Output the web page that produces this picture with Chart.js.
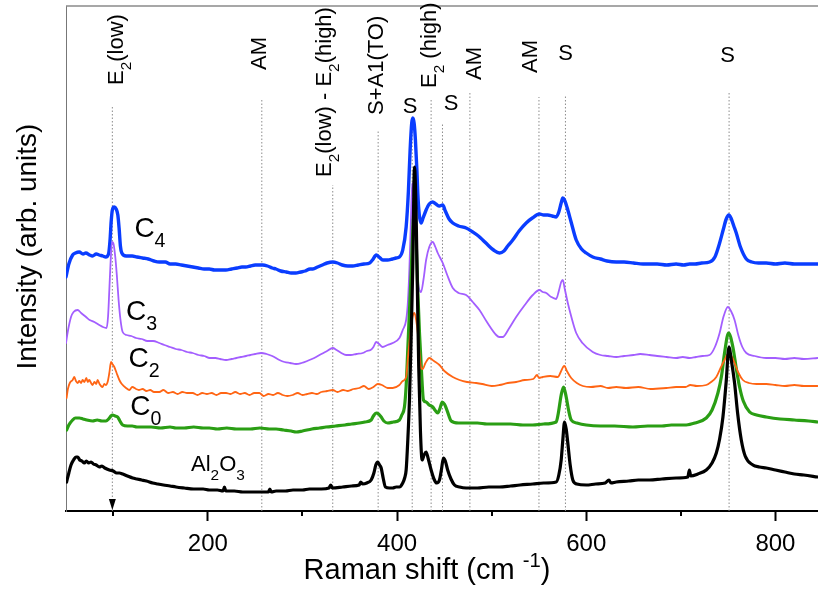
<!DOCTYPE html>
<html>
<head>
<meta charset="utf-8">
<script src="https://cdn.jsdelivr.net/npm/chart.js@4.4.1/dist/chart.umd.min.js"></script>
<style>
  html, body { margin: 0; padding: 0; background: #fff; }
  canvas { display: block; }
</style>
</head>
<body>
<canvas id="raman" width="818" height="592"></canvas>
<script>
// Raman spectra: [Raman shift (cm-1), intensity (arb. units)]
const c4Spectrum = [[50,234],[53,247],[57,256],[60,258],[64,259],[68,257],[71,258],[75,256],[78,255],[82,257],[85,256],[89,255],[92,254],[95,257],[96.5,270],[97.8,290],[99,301],[101,304],[103,302],[104.8,296],[106.2,282],[107.5,265],[109,258],[113.5,255],[120,255],[125,254],[131,253],[137,252],[143,250],[148.7,249],[155,249],[160,247],[166,247],[172,246],[178,245],[184,244],[190,243],[196,242],[201.5,242],[207,241],[213,241],[219,241],[225,242],[231,243],[236,244],[240,244],[245,245],[250,246],[254,246],[258,246],[263,245],[268,243],[272,242],[277,240],[283,239],[288,238],[293,238],[298,239],[303,240],[308,242],[311,242],[316,244],[321,246],[326,248],[332,249],[337,248],[342,246],[348,245],[353,245],[359,246],[365,247],[371,248],[374,251],[378,256],[381,254],[385,251],[390,251],[395,252],[399,253],[402.5,254],[406,261],[409.6,284],[412,320],[413.8,361],[415.5,388],[416.6,393],[418,388],[419.4,371],[421,340],[421.9,318],[423.5,296],[425.4,288],[427.5,293],[430.7,301],[434,307],[437.7,309],[441,307],[444.8,305],[448.3,306],[451,300],[455,292],[458.9,288],[465,285],[473,283],[480,279],[486,275],[490.6,271],[496,266],[502,261],[508.3,258],[513,260],[517,265],[522.3,271],[529,280],[536.5,288],[543,293],[550.6,297],[555,296],[559.3,296],[564,295],[568.2,294],[571,299],[573.5,308],[575.2,313],[577,311],[580.5,301],[584,289],[589.4,271],[595,262],[600,258],[606.9,254],[615,252],[622,250],[631.7,249],[640,249],[650,248],[660,247],[666.9,247],[675,247],[685,246],[695,247],[703,246],[709.2,247],[715,247],[722,248],[730.4,249],[736,254],[741,268],[745,282],[748,292],[750.8,296],[753,293],[756,285],[758.6,278],[763,264],[769.2,252],[775,249],[782,248],[790.3,248],[800,247],[810,248],[820,247],[830,247],[844.6,247]];

const c3Spectrum = [[50,168],[52,180],[55.3,194],[58,199],[62.3,201],[66,198],[71.2,194],[75,191],[80,189],[85.2,186],[89,184],[92.9,183],[94.5,195],[95.8,221],[97.2,250],[98.6,269],[100,268],[102.1,254],[103.8,235],[105.6,211],[107.5,192],[109.9,179],[114,176],[119,175],[124,173],[130,172],[136,170],[142,170],[148.7,168],[154,166],[160,164],[166,162],[172,161],[178,159],[183.9,158],[190,156],[196,155],[202,153],[208,153],[213,152],[219.2,151],[225,152],[230,153],[235,154],[240.4,155],[245,156],[250,157],[256.2,158],[262,157],[268,155],[275.6,151],[281,149],[287,148],[293.2,147],[299,148],[305,150],[310,152],[314.4,154],[320,157],[326,160],[332,163],[336,161],[341,158],[346.1,156],[351,156],[357,157],[363.7,158],[368,160],[372,161],[375,164],[377.9,169],[381,167],[384.8,164],[390,166],[395.4,168],[402.5,173],[406,181],[409.6,191],[411.5,210],[413.1,244],[414.6,290],[416,328],[417.6,315],[419.4,278],[421,245],[422.9,224],[425.4,219],[428,232],[430.7,251],[434,264],[437.7,269],[440.5,264],[443,258],[448.3,248],[453,236],[458.9,223],[465,218],[473,216],[480,209],[487.1,201],[495,189],[504.8,176],[508,174],[511.7,174],[518,182],[525.9,194],[535,206],[543.5,216],[550.6,221],[554,219],[557.7,218],[563,214],[568.2,212],[571,220],[573.5,229],[575.2,231],[577.3,222],[580.5,208],[584,195],[589.4,178],[596,168],[606.9,159],[615,156],[623,155],[631.7,154],[640,155],[650,156],[657,157],[666.9,156],[675,155],[685,154],[695,153],[702,154],[709.2,153],[716,154],[723,155],[730.4,156],[736,164],[741,178],[745,194],[749.7,204],[753,200],[756.8,191],[761,175],[765,164],[769.2,158],[778,155],[790.3,153],[800,153],[810,152],[820,153],[830,152],[844.6,153]];

const c2Spectrum = [[50.6,113],[52,122],[54,128],[57,131],[58.8,134],[60.5,130],[62.3,128],[64,130],[66,128],[67.5,131],[69.4,129],[71.5,133],[73,129],[74.6,131],[76.5,128],[78.1,126],[80,129],[82,127],[83.4,131],[85.5,127],[87,125],[88.7,124],[90.5,127],[92,126],[94,129],[95.8,138],[97.6,149],[99,147],[101.1,144],[103.5,138],[106.4,131],[109,127],[113.5,123],[117,121],[120,124],[124,122],[127,121],[131,122],[135,120],[139,121],[143,119],[148.7,119],[153,121],[158,118],[163,119],[168,117],[173,119],[178,118],[183.9,118],[189,116],[194,118],[199,117],[204,118],[209,116],[214,118],[219.2,118],[224,117],[229,119],[234,117],[239,118],[244,116],[249,118],[254.4,118],[259,115],[264,117],[269,116],[274,118],[279,116],[284,115],[289.7,116],[295,118],[300,116],[305,117],[310,118],[315,117],[320,119],[326,120],[332,121],[337,119],[343,121],[348,120],[354,122],[360.2,123],[365,125],[370,122],[375,124],[379.6,127],[384,126],[390,123],[395.4,123],[402.5,126],[406,130],[409.6,134],[411.3,151],[413.2,170],[414.9,184],[416.6,195],[418.4,198],[420.2,191],[421.9,178],[423.5,160],[425.4,143],[427,142],[430,148],[434.2,153],[439,150],[444.8,146],[450,140],[458.9,134],[466,131],[474,129],[483.6,128],[490,127],[500,125],[508.3,126],[517,128],[525.9,129],[535,131],[544,132],[548,136],[550,133],[554.1,134],[562,135],[569.9,134],[573,139],[575.5,144],[577,145],[579.5,140],[584.1,133],[590,128],[596.4,125],[605,124],[615,125],[623,123],[631.7,124],[642,123],[655,124],[668,122],[684.6,123],[695,124],[705,124],[710,126],[717,125],[726.9,126],[732,129],[737.5,134],[742,143],[746.2,151],[750.8,158],[753.5,155],[756.8,148],[761,138],[765.6,131],[772,128],[780,127],[790.3,127],[800,126],[810,125],[820,126],[830,125],[844.6,125]];

const c0Spectrum = [[50.6,81],[53,86],[57,91],[60,93],[64.1,93],[68,92],[72,91],[78.1,90],[83,91],[88,90],[92.3,90],[95,92],[97.5,95],[99.3,96],[102,95],[104.6,94],[107,90],[109.9,86],[115,85],[120,85],[125,84],[131,84],[140,84],[150,83],[160,84],[166.3,83],[175,83],[185,84],[195,83],[201.5,83],[210,82],[220,83],[230,82],[236.8,82],[245,82],[255,83],[265,82],[272.1,82],[280,81],[288,80],[293.2,79],[300,80],[310,82],[318,83],[325,84],[335,85],[345,86],[352,87],[360.2,88],[366,89],[372.6,91],[375,95],[377.9,98],[380.5,97],[383.2,94],[386,90],[390.1,88],[396,89],[402.5,91],[405,96],[407.8,104],[409.6,125],[411.3,161],[413.1,200],[414.9,238],[416.6,280],[418.4,305],[420.2,270],[421.9,220],[423.7,178],[425.8,140],[427.9,111],[430.7,109],[434,106],[437.7,104],[440,101],[443,98],[445.5,103],[447.7,109],[450,107],[451.9,103],[454.5,96],[457.2,90],[465,88],[473,88],[485,88],[495,87],[508.3,87],[520,87],[533,86],[543.5,86],[555,87],[568.2,89],[570.5,98],[573.5,116],[576,124],[578.8,114],[581.5,100],[584.1,91],[590,88],[600,86],[615,85],[630,85],[649.3,84],[665,85],[680,85],[690,86],[705.7,86],[715,88],[726.9,93],[733,101],[739.2,118],[743,135],[746.2,158],[750.4,178],[755,164],[758.5,143],[762.1,124],[766,110],[772.7,99],[780,96],[790.3,94],[805,92],[820,91],[835,90],[844.6,89]];

const al2o3Spectrum = [[50.6,29],[53,38],[55.3,46],[58,51],[60.5,54],[62.3,54],[64.5,51],[66.8,50],[69.4,48],[71.5,50],[74,48],[76.5,49],[79,47],[82,46],[85.2,44],[88,45],[91,43],[95.8,41],[100,40],[103.5,38],[106.4,38],[110,37],[115,35],[120.4,33],[125,32],[130,31],[135,30],[141.6,28],[147,27],[153,26],[160,25],[166.3,24],[175,23],[185,22],[195,22],[201.5,21],[210,21],[216,20],[217.5,24],[219,20],[228,20],[236.8,19],[245,19],[255,19],[264,19],[265.5,22],[267,19],[272.1,20],[282,20],[290,21],[300,21],[307.3,22],[320,22],[328,23],[330,26],[331.5,23],[342.5,24],[352,25],[360,26],[361.5,29],[363.7,27],[368,28],[372.6,31],[375.5,38],[377.5,46],[379.6,49],[381.5,46],[383.2,43],[385.5,32],[387.7,24],[392,23],[395.4,23],[399,24],[402.5,24],[406,28],[408,33],[409.6,41],[411.3,70],[413.1,111],[414.9,175],[416.6,244],[418.4,344],[420.2,294],[421.5,220],[422.9,144],[424.7,80],[426.5,51],[428.5,56],[430.7,59],[433,52],[436,41],[439,32],[441.9,28],[444.8,31],[447,42],[449,53],[451,50],[453.5,41],[457,32],[460.7,26],[466,24],[473,23],[485,23],[497,24],[508.3,24],[520,25],[530,26],[543.5,27],[555,28],[568.2,29],[571,36],[573.5,51],[575.3,72],[577,89],[578.8,82],[580.5,68],[583,46],[585.8,31],[590,27],[600,26],[610,27],[620,28],[624,31],[626,28],[631.7,29],[645,30],[655,31],[666.9,31],[680,32],[695,33],[707.4,34],[709,41],[710.5,35],[718,37],[726.9,41],[733,48],[737.5,58],[741,72],[744.5,94],[748,130],[750.8,164],[753.5,150],[756.8,128],[760,98],[763.9,71],[768,55],[776.2,46],[783,44],[790.3,43],[800,41],[810,39],[820,37],[830,36],[844.6,34]];

// Assigned Raman modes: position and height of the dotted guide line
const markerShift = [99, 257, 332, 380, 416, 436, 448, 477, 550, 578, 751];
const markerTop   = [404, 411, 326, 381, 391, 411, 388, 418, 414, 416, 418];

// Axis ticks
const majorTicks = [200, 400, 600, 800];
const minorTicks = [100, 300, 500, 700];

const FONT = "'Liberation Sans', Arial, Helvetica, sans-serif";

// Peak labels: text runs [text, kind], anchor in data coordinates
const peakLabels = [
  { runs: [['E',''],['2','sub'],['(low)','']], x: 109.9, y: 426, rot: true },
  { runs: [['AM','']], x: 261.5, y: 441, rot: true },
  { runs: [['E',''],['2','sub'],['(low) - E',''],['2','sub'],['(high)','']], x: 330.3, y: 334, rot: true },
  { runs: [['S+A1(TO)','']], x: 384.8, y: 396, rot: true },
  { runs: [['S','']], x: 413.8, y: 398, rot: false },
  { runs: [['E',''],['2','sub'],[' (high)','']], x: 441.3, y: 423, rot: true },
  { runs: [['S','']], x: 457, y: 401, rot: false },
  { runs: [['AM','']], x: 488.9, y: 431, rot: true },
  { runs: [['AM','']], x: 548.4, y: 438, rot: true },
  { runs: [['S','']], x: 578.1, y: 451, rot: false },
  { runs: [['S','']], x: 749.4, y: 449, rot: false }
];

// Sample labels beside each spectrum
const sampleLabels = [
  { runs: [['C',''],['4','sub']], x: 122.3, y: 274, size: 28 },
  { runs: [['C',''],['3','sub']], x: 113.5, y: 191, size: 28 },
  { runs: [['C',''],['2','sub']], x: 116.2, y: 144, size: 28 },
  { runs: [['C',''],['0','sub']], x: 118, y: 96, size: 28 },
  { runs: [['Al',''],['2','sub'],['O',''],['3','sub']], x: 182.2, y: 40, size: 22, subShift: 0.43 }
];

function drawRuns(ctx, runs, size, align, subShift) {
  const parts = runs.map(([t, k]) => {
    const fs = k ? size * 0.7 : size;
    ctx.font = fs + 'px ' + FONT;
    return { t, k, fs, w: ctx.measureText(t).width };
  });
  const total = parts.reduce((a, p) => a + p.w, 0);
  let x = align === 'center' ? -total / 2 : 0;
  for (const p of parts) {
    ctx.font = p.fs + 'px ' + FONT;
    let dy = 0;
    if (p.k === 'sub') dy = size * (subShift || 0.36);
    if (p.k === 'sup') dy = -size * 0.4;
    ctx.fillText(p.t, x, dy);
    x += p.w;
  }
}

const decorations = {
  id: 'decorations',
  afterDatasetsDraw(chart) {
    const { ctx, chartArea: a, scales: { x, y } } = chart;
    ctx.save();
    // frame top edge
    ctx.strokeStyle = '#8a8a8a';
    ctx.lineWidth = 1.5;
    ctx.beginPath();
    ctx.moveTo(a.left, a.top);
    ctx.lineTo(a.right, a.top);
    ctx.stroke();

    // minor ticks
    ctx.strokeStyle = '#000';
    ctx.lineWidth = 2;
    minorTicks.forEach(v => {
      const px = Math.round(x.getPixelForValue(v));
      ctx.beginPath();
      ctx.moveTo(px, a.bottom);
      ctx.lineTo(px, a.bottom + 5);
      ctx.stroke();
    });

    // arrow marking the E2(low) mode on the axis
    const ax = x.getPixelForValue(markerShift[0]);
    ctx.fillStyle = '#000';
    ctx.beginPath();
    ctx.moveTo(ax - 3.5, a.bottom - 12);
    ctx.lineTo(ax + 3.5, a.bottom - 12);
    ctx.lineTo(ax, a.bottom - 1);
    ctx.closePath();
    ctx.fill();

    ctx.fillStyle = '#000';
    ctx.textBaseline = 'alphabetic';
    ctx.textAlign = 'left';

    peakLabels.forEach(l => {
      const px = x.getPixelForValue(l.x);
      const py = y.getPixelForValue(l.y);
      ctx.save();
      ctx.translate(px, py);
      if (l.rot) {
        ctx.rotate(-Math.PI / 2);
        drawRuns(ctx, l.runs, 22, 'left');
      } else {
        drawRuns(ctx, l.runs, 22, 'center');
      }
      ctx.restore();
    });

    sampleLabels.forEach(l => {
      ctx.save();
      ctx.translate(x.getPixelForValue(l.x), y.getPixelForValue(l.y));
      drawRuns(ctx, l.runs, l.size, 'left', l.subShift);
      ctx.restore();
    });

    // axis titles
    ctx.save();
    ctx.translate(427, 579);
    drawRuns(ctx, [['Raman shift (cm ', ''], ['-1', 'sup'], [')', '']], 29, 'center');
    ctx.restore();

    ctx.save();
    ctx.translate(36, 246.5);
    ctx.rotate(-Math.PI / 2);
    drawRuns(ctx, [['Intensity (arb. units)', '']], 28, 'center');
    ctx.restore();

    ctx.restore();
  }
};

const toPoints = arr => arr.map(([s, i]) => ({ x: s, y: i }));

const spectrumStyle = (color, width, order) => ({
  borderColor: color,
  borderWidth: width,
  pointRadius: 0,
  fill: false,
  cubicInterpolationMode: 'monotone',
  borderJoinStyle: 'round',
  borderCapStyle: 'round',
  order
});

const markerDatasets = markerShift.map((s, i) => ({
  data: [{ x: s, y: 0 }, { x: s, y: markerTop[i] }],
  borderColor: '#8c8c8c',
  borderWidth: 1,
  borderDash: [1.5, 2],
  pointRadius: 0,
  fill: false,
  order: 20
}));

new Chart(document.getElementById('raman'), {
  type: 'line',
  data: {
    datasets: [
      ...markerDatasets,
      { label: 'C4', data: toPoints(c4Spectrum), ...spectrumStyle('#0a3dff', 3.4, 5) },
      { label: 'C3', data: toPoints(c3Spectrum), ...spectrumStyle('#a35eff', 1.8, 4) },
      { label: 'C0', data: toPoints(c0Spectrum), ...spectrumStyle('#2a9e14', 3.2, 3) },
      { label: 'C2', data: toPoints(c2Spectrum), ...spectrumStyle('#ff6514', 1.8, 2) },
      { label: 'Al2O3', data: toPoints(al2o3Spectrum), ...spectrumStyle('#000000', 3.2, 1) }
    ]
  },
  options: {
    responsive: false,
    animation: false,
    devicePixelRatio: 1,
    layout: { padding: { top: 6, right: 0, bottom: 0, left: 0 } },
    plugins: { legend: { display: false }, tooltip: { enabled: false } },
    scales: {
      x: {
        type: 'linear',
        position: 'bottom',
        min: 50,
        max: 845,
        afterBuildTicks: s => { s.ticks = majorTicks.map(v => ({ value: v })); },
        afterFit: s => { s.height = 81; },
        ticks: {
          color: '#000',
          font: { family: FONT, size: 24 },
          padding: 9,
          maxRotation: 0,
          autoSkip: false
        },
        grid: { drawOnChartArea: false, drawTicks: true, tickLength: 10, tickWidth: 2, tickColor: '#000' },
        border: { display: true, color: '#000', width: 2 }
      },
      y: {
        min: 0,
        max: 505,
        afterFit: s => { s.width = 66; },
        ticks: { display: false },
        grid: { display: false },
        border: { display: true, color: '#777', width: 1 }
      }
    }
  },
  plugins: [decorations]
});
</script>
</body>
</html>
